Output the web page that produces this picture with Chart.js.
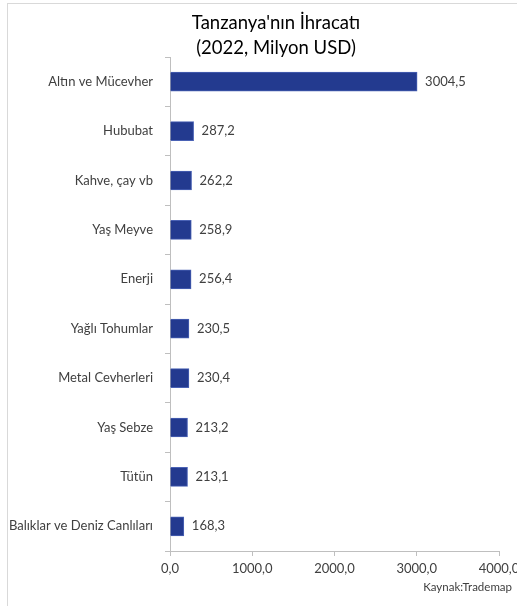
<!DOCTYPE html>
<html>
<head>
<meta charset="utf-8">
<script src="https://cdn.jsdelivr.net/npm/chart.js@4"></script>
<style>
  html, body { margin: 0; padding: 0; background: #fff; overflow: hidden; }
  #wrap { width: 517px; height: 606px; position: relative; }
</style>
</head>
<body>
<div id="wrap"><canvas id="grafico"></canvas></div>
<script>
const urunler = ["Altın ve Mücevher", "Hububat", "Kahve, çay vb", "Yaş Meyve", "Enerji",
                 "Yağlı Tohumlar", "Metal Cevherleri", "Yaş Sebze", "Tütün", "Balıklar ve Deniz Canlıları"];
const ihracat = [3004.5, 287.2, 262.2, 258.9, 256.4, 230.5, 230.4, 213.2, 213.1, 168.3];
const eksenMax = 4000;
const eksenAdim = 1000;
const baslik = ["Tanzanya'nın İhracatı", "(2022, Milyon USD)"];

const fmt = (v) => v.toFixed(1).replace(".", ",");
const yazi = "Lato, 'Liberation Sans', sans-serif";

// cerceve, baslik, deger etiketleri, kaynak
const ekler = {
  id: "ekler",
  beforeDraw(chart) {
    const c = chart.ctx;
    c.save();
    c.strokeStyle = "#d9d9d9";
    c.lineWidth = 1;
    c.strokeRect(7.5, 3.5, 530, 620);
    c.fillStyle = "#000";
    c.font = "18.5px " + yazi;
    c.textAlign = "center";
    c.textBaseline = "middle";
    c.fillText(baslik[0], 276, 23);
    c.fillText(baslik[1], 276, 48);
    c.restore();
  },
  afterDatasetsDraw(chart) {
    const c = chart.ctx;
    const meta = chart.getDatasetMeta(0);
    c.save();
    c.font = "13px " + yazi;
    c.fillStyle = "#404040";
    c.textBaseline = "middle";
    meta.data.forEach((bar, i) => {
      c.fillText(fmt(ihracat[i]), bar.x + 8, bar.y);
    });
    c.textAlign = "right";
    c.font = "11.5px " + yazi;
    c.fillText("Kaynak:Trademap", 512, 587);
    c.restore();
  }
};

new Chart(document.getElementById("grafico"), {
  type: "bar",
  data: {
    labels: urunler,
    datasets: [{
      data: ihracat,
      backgroundColor: "#233a8f",
      borderColor: "#4a62b5",
      borderWidth: 1,
      barThickness: 19
    }]
  },
  plugins: [ekler],
  options: {
    indexAxis: "y",
    responsive: true,
    maintainAspectRatio: false,
    animation: false,
    layout: { padding: { left: 7, right: 18, top: 57, bottom: 22 } },
    plugins: {
      legend: { display: false },
      tooltip: { enabled: false },
      title: { display: false }
    },
    scales: {
      x: {
        min: 0,
        max: eksenMax,
        afterFit: (s) => { s.paddingRight = 0; s.paddingLeft = 0; s.height = 33; },
        ticks: {
          stepSize: eksenAdim,
          callback: (v) => fmt(v),
          color: "#404040",
          font: { family: yazi, size: 13 },
          padding: 5
        },
        grid: { drawOnChartArea: false, color: "#bfbfbf", tickLength: 5 },
        border: { color: "#bfbfbf" }
      },
      y: {
        afterFit: (s) => { s.width = 163; },
        ticks: {
          color: "#404040",
          font: { family: yazi, size: 13 },
          padding: 12
        },
        grid: { drawOnChartArea: false, offset: true, color: "#bfbfbf", tickLength: 5 },
        border: { color: "#bfbfbf" }
      }
    }
  }
});
</script>
</body>
</html>
